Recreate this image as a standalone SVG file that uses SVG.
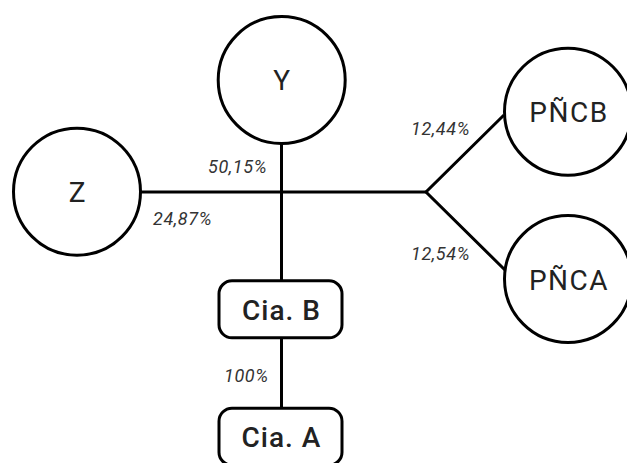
<svg xmlns="http://www.w3.org/2000/svg" width="627" height="463" viewBox="0 0 627 463">
<style>
.node{fill:#fff;stroke:#000;stroke-width:3}
.lbl{font-family:Roboto,"Liberation Sans",sans-serif;font-size:28px;fill:#222;text-anchor:middle;letter-spacing:1.5px}
.box{font-family:Roboto,"Liberation Sans",sans-serif;font-size:28px;font-weight:500;fill:#222;text-anchor:middle;letter-spacing:1px}
.pct{font-family:Roboto,"Liberation Sans",sans-serif;font-size:18px;font-style:italic;fill:#333;letter-spacing:0.6px}
.edge{stroke:#000;stroke-width:3;fill:none}
</style>
<rect width="627" height="463" fill="#fff"/>
<g id="connectors">
<line class="edge" x1="140" y1="192" x2="426" y2="192"/>
<line class="edge" x1="281.5" y1="143" x2="281.5" y2="281"/>
<polyline class="edge" points="504,115 426,192 505,270"/>
<line class="edge" x1="281.5" y1="337" x2="281.5" y2="409"/>
</g>
<g id="node-Y"><circle class="node" cx="281.7" cy="80" r="63.5"/><text class="lbl" x="282.5" y="90">Y</text></g>
<g id="node-Z"><circle class="node" cx="77" cy="191.7" r="63.5"/><text class="lbl" x="77.8" y="201.7">Z</text></g>
<g id="node-PNCB"><circle class="node" cx="568" cy="111.7" r="63.5"/><text class="lbl" x="569" y="121.7">PÑCB</text></g>
<g id="node-PNCA"><circle class="node" cx="568" cy="279" r="63.5"/><text class="lbl" x="569" y="290">PÑCA</text></g>
<g id="node-CiaB"><rect class="node" x="219" y="280.8" width="123" height="57" rx="13"/><text class="box" x="281.5" y="320">Cia. B</text></g>
<g id="node-CiaA"><rect class="node" x="219" y="408.2" width="123" height="57" rx="13"/><text class="box" x="281.5" y="446.7">Cia. A</text></g>
<g id="labels">
<text class="pct" x="208" y="172.5">50,15%</text>
<text class="pct" x="153" y="225">24,87%</text>
<text class="pct" x="411" y="135">12,44%</text>
<text class="pct" x="411" y="260">12,54%</text>
<text class="pct" x="224" y="381.5">100%</text>
</g>
</svg>
